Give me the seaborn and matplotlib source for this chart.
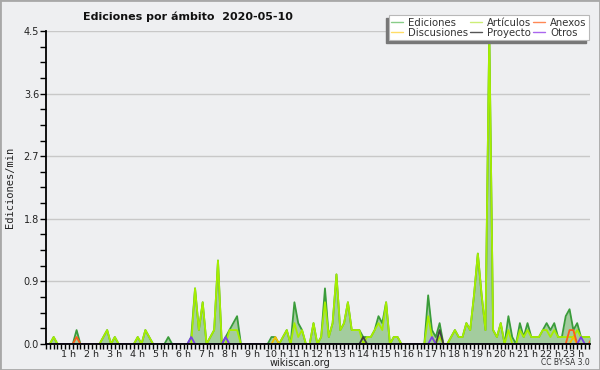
import numpy as np
import pandas as pd
import matplotlib
matplotlib.use("Agg")
import matplotlib.pyplot as plt
from matplotlib.lines import Line2D
from matplotlib.patches import Rectangle
import seaborn as sns

# Ediciones por minuto, intervalos de 10 minutos (144 intervalos)
ediciones = [
    0, 0, 0.1, 0, 0, 0, 0, 0, 0.2, 0, 0, 0, 0, 0, 0, 0.1, 0.2, 0, 0.1, 0,
    0, 0, 0, 0, 0.1, 0, 0.2, 0.1, 0, 0, 0, 0, 0.1, 0, 0, 0, 0, 0, 0.1, 0.8,
    0.2, 0.6, 0, 0.1, 0.2, 1.2, 0, 0.1, 0.2, 0.3, 0.4, 0, 0, 0, 0, 0, 0, 0, 0, 0.1,
    0.1, 0, 0.1, 0.2, 0, 0.6, 0.3, 0.2, 0, 0, 0.3, 0, 0.1, 0.8, 0.1, 0.3, 1.0, 0.2, 0.3, 0.6,
    0.2, 0.2, 0.2, 0.1, 0.1, 0.1, 0.2, 0.4, 0.3, 0.6, 0, 0.1, 0.1, 0, 0, 0, 0, 0, 0, 0,
    0.7, 0.2, 0.1, 0.3, 0, 0, 0.1, 0.2, 0.1, 0.1, 0.3, 0.2, 0.7, 1.3, 0.7, 0.2, 4.5, 0.2, 0.1, 0.3,
    0, 0.4, 0.1, 0, 0.3, 0.1, 0.3, 0.1, 0.1, 0.1, 0.2, 0.3, 0.2, 0.3, 0.1, 0.1, 0.4, 0.5, 0.2, 0.3,
    0.1, 0.1, 0.1, 0.1,
]
articulos = [
    0, 0, 0.1, 0, 0, 0, 0, 0, 0, 0, 0, 0, 0, 0, 0, 0.1, 0.2, 0, 0.1, 0,
    0, 0, 0, 0, 0.1, 0, 0.2, 0.1, 0, 0, 0, 0, 0, 0, 0, 0, 0, 0, 0, 0.8,
    0.2, 0.6, 0, 0.1, 0.2, 1.2, 0, 0, 0.2, 0.2, 0.2, 0, 0, 0, 0, 0, 0, 0, 0, 0,
    0, 0, 0.1, 0.2, 0, 0.3, 0.1, 0.2, 0, 0, 0.3, 0, 0.1, 0.6, 0.1, 0.3, 1.0, 0.2, 0.3, 0.6,
    0.2, 0.2, 0.2, 0, 0.1, 0.1, 0.2, 0.3, 0.2, 0.6, 0, 0.1, 0.1, 0, 0, 0, 0, 0, 0, 0,
    0.4, 0.1, 0, 0.1, 0, 0, 0.1, 0.2, 0.1, 0.1, 0.3, 0.2, 0.7, 1.3, 0.7, 0.2, 4.5, 0.2, 0.1, 0.3,
    0, 0.2, 0, 0, 0.2, 0.1, 0.2, 0.1, 0.1, 0.1, 0.2, 0.2, 0.1, 0.2, 0.1, 0.1, 0.1, 0.1, 0.1, 0.2,
    0.1, 0.1, 0.1, 0.1,
]
# series pequeñas: {intervalo: valor}
anexos_pts = {8: 0.1, 137: 0.2, 138: 0.2, 143: 0.1}
discusiones_pts = {60: 0.1, 138: 0.1}
proyecto_pts = {83: 0.1, 103: 0.2}
otros_pts = {38: 0.1, 47: 0.1, 101: 0.1, 140: 0.1}

hour_labels = [f"{h} h" for h in range(1, 24)]
y_ticks = [0.0, 0.9, 1.8, 2.7, 3.6, 4.5]


def to_series(pts):
    s = np.zeros(144)
    for k, v in pts.items():
        s[k] = v
    return s


horas = np.arange(144) / 6.0
df = pd.DataFrame({
    "hora": horas,
    "Ediciones": ediciones,
    "Artículos": articulos,
    "Anexos": to_series(anexos_pts),
    "Discusiones": to_series(discusiones_pts),
    "Proyecto": to_series(proyecto_pts),
    "Otros": to_series(otros_pts),
})

sns.set_style("white")
NARROW = ["Liberation Sans Narrow", "DejaVu Sans"]
plt.rcParams["font.family"] = NARROW

BG = "#eeeff1"
TXT = "#222222"
fig = plt.figure(figsize=(6, 3.7), dpi=100, facecolor=BG)
ax = fig.add_axes([0.0767, 0.0703, 0.9063, 0.8459])
ax.set_facecolor(BG)

ax.fill_between(df["hora"], df["Ediciones"], color="#a3cc9e", lw=0, zorder=2)
line_colors = {
    "Ediciones": "#3a9c3a",
    "Artículos": "#a6ee00",
    "Discusiones": "#f2c200",
    "Proyecto": "#404040",
    "Anexos": "#ff5a1a",
    "Otros": "#7a3ee8",
}
for name in ["Ediciones", "Artículos", "Discusiones", "Proyecto", "Anexos", "Otros"]:
    sns.lineplot(data=df, x="hora", y=name, color=line_colors[name], lw=1.3,
                 ax=ax, zorder=3, legend=False)

ax.set_xlim(0, 142.3 / 6)
ax.set_ylim(0, 4.5)
ax.set_yticks(y_ticks)
ax.set_yticklabels([f"{v:.1f}" for v in y_ticks], fontsize=7, color=TXT)
ax.set_yticks(np.arange(0, 4.5001, 0.225), minor=True)
ax.set_xticks(np.arange(1, 24))
ax.set_xticklabels(hour_labels, fontsize=6.8, color=TXT)
ax.set_xticks(np.arange(0, 142.5 / 6, 1 / 6), minor=True)
ax.tick_params(axis="both", which="both", direction="out", length=4, width=1,
               color="black", bottom=True, left=True)
ax.tick_params(axis="x", which="both", length=3.5, pad=0.5)
ax.tick_params(axis="y", which="both", pad=1)
ax.grid(axis="y", which="major", color="#c8c8c8", lw=1)
ax.set_axisbelow(True)
for sp in ["top", "right"]:
    ax.spines[sp].set_visible(False)
for sp in ["left", "bottom"]:
    ax.spines[sp].set_color("black")
    ax.spines[sp].set_linewidth(1.3)
    ax.spines[sp].set_zorder(5)
ax.set_xlabel("")
ax.set_ylabel("Ediciones/min", family="DejaVu Sans Mono", fontsize=7.5, labelpad=6, color=TXT)

fig.text(0.313, 0.955, "Ediciones por ámbito  2020-05-10", ha="center", va="center",
         fontsize=8, fontweight="bold", color="#111111", family="DejaVu Sans")
fig.text(0.5, 0.02, "wikiscan.org", ha="center", va="center", fontsize=7, color=TXT)
fig.text(0.983, 0.02, "CC BY-SA 3.0", ha="right", va="center", fontsize=5.5, color="#333333")

legend_colors = {
    "Ediciones": "#88cc88",
    "Discusiones": "#ffdd66",
    "Artículos": "#ccee77",
    "Proyecto": "#555555",
    "Anexos": "#ff8855",
    "Otros": "#aa66ee",
}
handles = [Line2D([0], [0], color=c, lw=1) for c in legend_colors.values()]
leg = fig.legend(handles, list(legend_colors.keys()), ncol=3, loc="upper right",
                 bbox_to_anchor=(0.99, 0.972), prop={"size": 7.3}, frameon=True,
                 fancybox=False, handlelength=1.2, handletextpad=0.45,
                 columnspacing=0.2, labelspacing=0.0, borderpad=0.25,
                 edgecolor="#b8b8b8", framealpha=1)
leg.get_frame().set_linewidth(0.8)
for t in leg.get_texts():
    t.set_color("#333333")

# sombra del recuadro de la leyenda (abajo a la izquierda)
fig.canvas.draw()
bb = leg.get_window_extent().transformed(fig.transFigure.inverted())
fig.patches.append(Rectangle((bb.x0 - 3 / 600, bb.y0 - 3 / 370), bb.width, bb.height,
                             transform=fig.transFigure, color="#777777", zorder=4))

fig.patches.append(Rectangle((0, 0), 1, 1, transform=fig.transFigure, fill=False,
                             edgecolor="#a8a8a8", lw=2, zorder=10))

fig.savefig("out.png", dpi=100, facecolor=BG)
